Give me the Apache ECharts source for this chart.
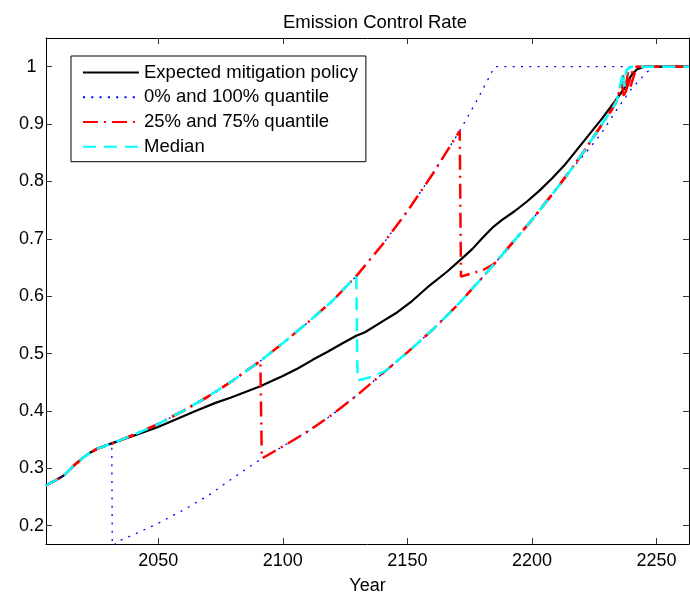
<!DOCTYPE html>
<html><head><meta charset="utf-8">
<script src="https://cdn.jsdelivr.net/npm/echarts@6/dist/echarts.min.js"></script>
<style>html,body{margin:0;padding:0;background:#fff}#c{width:690px;height:600px}</style>
</head><body><div id="c"></div>
<script>
// ---- data ----
const xTicks = [2050, 2100, 2150, 2200, 2250];
const yTicks = [0.2, 0.3, 0.4, 0.5, 0.6, 0.7, 0.8, 0.9, 1];
const legendNames = ['Expected mitigation policy', '0% and 100% quantile', '25% and 75% quantile', 'Median'];

// shared start of all paths
const startPath = [[2005,0.270],[2008,0.277],[2012,0.287],[2016,0.304],[2020,0.319],[2023,0.328],[2026,0.335],[2031.4,0.343]];
// upper envelope
const upperPath = [[2040,0.358],[2050,0.377],[2060,0.400],[2070,0.425],[2080,0.453],[2091,0.487],[2100,0.518],[2110,0.554],[2120,0.592],[2129.5,0.635],[2140,0.690],[2150,0.748],[2160,0.812],[2171,0.888],[2178,0.942],[2182,0.975],[2185,1.0]];
// lower envelope
const lowerPath = [[2033,0.171],[2040,0.184],[2050,0.204],[2060,0.227],[2070,0.252],[2080,0.283],[2091.6,0.317],[2100,0.338],[2110,0.364],[2120,0.394],[2130,0.428],[2140,0.465],[2150,0.502],[2160,0.541],[2170,0.584],[2180,0.632],[2185,0.657],[2190,0.682],[2200,0.733],[2210,0.788],[2215,0.817],[2220,0.847],[2230,0.912],[2232,0.925],[2234,0.940]];

const expected = [[2005,0.270],[2008,0.277],[2012,0.287],[2016,0.304],[2020,0.319],[2023,0.328],[2026,0.335],[2031,0.343],[2037,0.352],[2043,0.361],[2050,0.372],[2057,0.385],[2065,0.400],[2073,0.414],[2079,0.423],[2085,0.433],[2091,0.443],[2096,0.453],[2100,0.461],[2106,0.474],[2112,0.489],[2118,0.503],[2124,0.518],[2129.5,0.531],[2133,0.537],[2140,0.556],[2146,0.572],[2152,0.592],[2159,0.619],[2166,0.643],[2172.5,0.668],[2176,0.682],[2180,0.701],[2184,0.719],[2188,0.733],[2193,0.748],[2198,0.765],[2203,0.784],[2208,0.805],[2213,0.828],[2218,0.855],[2223,0.882],[2228,0.909],[2233,0.938],[2237,0.962],[2240,0.986],[2242,0.995],[2245,1.0],[2263,1.0]];

const q100End = [[2263,1.0]];
const q0Drop = [[2031.6,0.150]];
const q0End = [[2222,0.852],[2228,0.885],[2234,0.925],[2240,0.962],[2246,0.990],[2249,1.0],[2263,1.0]];
const q25Drop = 2091;
const q25End = [[2235,0.955],[2236.5,0.985],[2237.5,0.955],[2239,0.975],[2241,1.0],[2263,1.0]];
const q75Drop = [[2171.5,0.634],[2180.6,0.646]];
const q75End = [[2236,0.970],[2237,0.945],[2238.5,0.990],[2239.5,0.965],[2242,1.0],[2263,1.0]];
const medianDrop = [[2130,0.453],[2134.5,0.458],[2141,0.469]];
const medianEnd = [[2236.5,0.990],[2237,0.965],[2238,0.995],[2240,1.0],[2263,1.0]];

// ---- build series paths ----
const upTo = (arr, yr) => arr.filter(p => p[0] <= yr);
const from = (arr, a, b) => arr.filter(p => p[0] >= a && p[0] <= b);

const q100 = startPath.concat(upperPath, q100End);
const q0 = startPath.concat(q0Drop, from(lowerPath, 2033, 2215), q0End);
const q25 = startPath.concat(upTo(upperPath, q25Drop), from(lowerPath, 2091.6, 2232), q25End);
const q75 = startPath.concat(upTo(upperPath, 2171), q75Drop, from(lowerPath, 2185, 2234), q75End);
const median = startPath.concat(upTo(upperPath, 2129.5), medianDrop, from(lowerPath, 2150, 2234), medianEnd);

const FONT = "'Liberation Sans', Arial, Helvetica, sans-serif";
const chart = echarts.init(document.getElementById('c'), null, {renderer: 'canvas'});

const blueStyle = {color: '#0000ff', width: 1.3, type: [2, 6.3]};
const redStyle = {color: '#ff0000', width: 2.5, type: [15, 6, 2, 6]};
const cyanStyle = {color: '#00ffff', width: 2.5, type: [13, 8]};

function mk(name, data, lineStyle, z) {
  return {type: 'line', name, data, showSymbol: false, symbol: 'circle', lineStyle,
    itemStyle: {color: lineStyle.color}, z, clip: true, animation: false, emphasis: {disabled: true}};
}

const axisCommonX = {type: 'value', min: 2005, max: 2263, splitLine: {show: false},
  axisLine: {show: true, onZero: false, lineStyle: {color: '#000', width: 1}},
  axisTick: {show: true, inside: true, length: 6, customValues: xTicks, lineStyle: {color: '#333'}}};
const axisCommonY = {type: 'value', min: 0.168, max: 1.05, splitLine: {show: false},
  axisLine: {show: true, onZero: false, lineStyle: {color: '#000', width: 1}},
  axisTick: {show: true, inside: true, length: 6, customValues: yTicks, lineStyle: {color: '#333'}}};

chart.setOption({
  animation: false,
  backgroundColor: '#fff',
  title: {text: 'Emission Control Rate', left: 370, top: 8, textAlign: 'center',
    textStyle: {fontFamily: FONT, fontSize: 18.5, fontWeight: 'normal', color: '#000'}},
  grid: {left: 46, right: 1, top: 38, bottom: 52, containLabel: false},
  legend: {
    data: legendNames, orient: 'vertical', left: 71, top: 56,
    itemWidth: 56, itemHeight: 14, itemGap: 4.7,
    padding: [6.6, 8, 5, 11],
    borderColor: '#000', borderWidth: 1, backgroundColor: '#fff',
    itemStyle: {opacity: 0},
    textStyle: {fontFamily: FONT, fontSize: 18.5, color: '#000', lineHeight: 20},
    selectedMode: false
  },
  xAxis: [
    Object.assign({}, axisCommonX, {position: 'bottom',
      axisLabel: {show: true, customValues: xTicks, margin: 8, fontFamily: FONT, fontSize: 18, color: '#000',
        formatter: v => String(v)},
      name: 'Year', nameLocation: 'middle', nameGap: 33,
      nameTextStyle: {fontFamily: FONT, fontSize: 18, color: '#000'}}),
    Object.assign({}, axisCommonX, {position: 'top', axisLabel: {show: false}})
  ],
  yAxis: [
    Object.assign({}, axisCommonY, {position: 'left',
      axisLabel: {show: true, customValues: yTicks, margin: 2, fontFamily: FONT, fontSize: 18, color: '#000',
        formatter: v => (v === 1 ? '{one|1}' : String(v)),
        rich: {one: {fontFamily: FONT, fontSize: 18, color: '#000', padding: [0, 7.5, 0, 0]}}}}),
    Object.assign({}, axisCommonY, {position: 'right', axisLabel: {show: false}})
  ],
  series: [
    mk(legendNames[0], expected, {color: '#000', width: 2.2, type: 'solid'}, 1),
    mk(legendNames[1], q100, blueStyle, 2),
    mk(legendNames[1], q0, blueStyle, 2),
    mk(legendNames[2], q25, redStyle, 3),
    mk(legendNames[2], q75, redStyle, 3),
    mk(legendNames[3], median, cyanStyle, 4)
  ]
});
</script></body></html>
